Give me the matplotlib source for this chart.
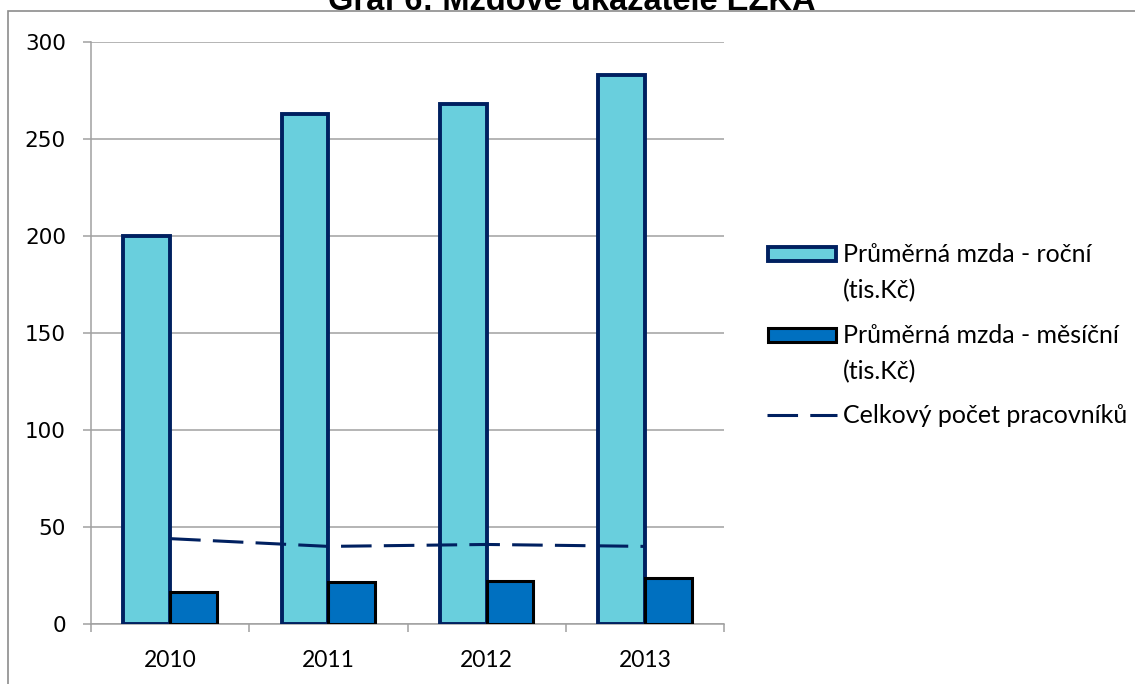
import numpy as np
import matplotlib
matplotlib.use("Agg")
import matplotlib.pyplot as plt
import matplotlib.patches as patches
from matplotlib.lines import Line2D

# data
years = ["2010", "2011", "2012", "2013"]
mzda_rocni = [200, 263, 268, 283]
mzda_mesicni = [16.7, 21.9, 22.3, 23.6]
pocet_pracovniku = [44, 40, 41, 40]

labels = ["Průměrná mzda - roční\n(tis.Kč)",
          "Průměrná mzda - měsíční\n(tis.Kč)",
          "Celkový počet pracovníků"]
title = "Graf 6: Mzdové ukazatele EZKA"

light = "#69CFDD"
dark = "#0070C0"
navy = "#002060"
grid = "#A0A0A0"

fig = plt.figure(figsize=(11.35, 6.84), dpi=100)
W, H = 1135, 684

def fx(px):
    return px / W

def fy(py):
    return 1 - py / H

# outer chart frame (cut off at the right and bottom like in the source)
fig.patches.append(patches.Rectangle((fx(8), fy(700)), fx(1200), fy(11) - fy(700),
                                     transform=fig.transFigure, fill=False,
                                     edgecolor="#8c8c8c", lw=1.2))
# the title sits half above the picture edge in the source
fig.text(fx(572), fy(10), title, ha="center", va="baseline",
         fontsize=23.5, fontweight="bold", family="Liberation Sans")

ax = fig.add_axes([fx(91), fy(624), fx(724) - fx(91), fy(42) - fy(624)])

x = np.arange(len(years))
w = 0.295
ax.bar(x - w / 2, mzda_rocni, w, color=light, edgecolor=navy, linewidth=2.8, zorder=3)
ax.bar(x + w / 2, mzda_mesicni, w, color=dark, edgecolor="black", linewidth=2.2, zorder=3)
ax.plot(x, pocet_pracovniku, color=navy, lw=2.2, dashes=(10, 4), zorder=4)

ax.set_xlim(-0.5, len(years) - 0.5)
ax.set_ylim(0, 300)
ax.set_yticks(np.arange(0, 301, 50))
ax.yaxis.grid(True, color=grid, lw=1.1, zorder=0)
ax.set_axisbelow(True)
for s in ["top", "right"]:
    ax.spines[s].set_visible(False)
for s in ["left", "bottom"]:
    ax.spines[s].set_color(grid)
    ax.spines[s].set_linewidth(1.1)

ax.tick_params(axis="y", length=6, color=grid, width=1.1, pad=12, labelsize=15.5)
ax.set_xticks(x)
ax.set_xticklabels(years, family="Lato", fontsize=16.5)
ax.set_xticks(np.arange(-0.5, len(years)), minor=True)
ax.tick_params(axis="x", which="major", length=0, pad=19)
ax.tick_params(axis="x", which="minor", length=6, color=grid, width=1.1)

# legend drawn by hand so that the key sits next to the first text line
rows = [254, 335, 415]
for i, (lab, yy) in enumerate(zip(labels, rows)):
    if i == 0:
        fig.patches.append(patches.Rectangle((fx(768), fy(yy + 7)), fx(68), fy(yy - 7) - fy(yy + 7),
                                             transform=fig.transFigure, facecolor=light,
                                             edgecolor=navy, lw=2.8))
    elif i == 1:
        fig.patches.append(patches.Rectangle((fx(768), fy(yy + 7)), fx(68), fy(yy - 7) - fy(yy + 7),
                                             transform=fig.transFigure, facecolor=dark,
                                             edgecolor="black", lw=2.2))
    else:
        fig.lines.append(Line2D([fx(767), fx(837)], [fy(yy), fy(yy)], transform=fig.transFigure,
                                color=navy, lw=2.2, dashes=(10, 4)))
    for k, part in enumerate(lab.split("\n")):
        fig.text(fx(843), fy(yy + 8 + 36 * k), part, ha="left", va="baseline",
                 family="Lato", fontsize=18)

fig.savefig("out.png", dpi=100)
